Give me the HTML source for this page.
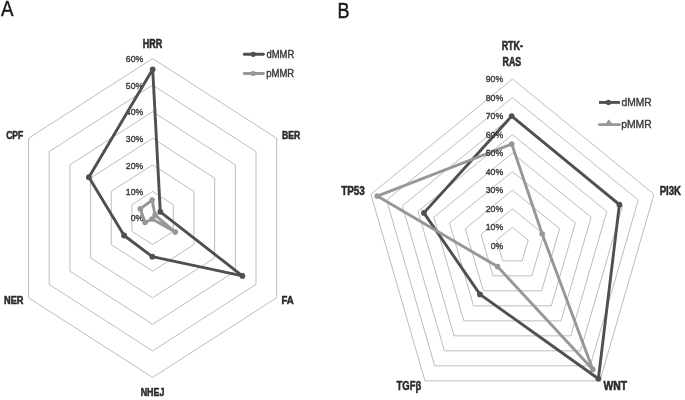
<!DOCTYPE html>
<html><head><meta charset="utf-8"><style>
html,body{margin:0;padding:0;background:#fff;}
svg{display:block;font-family:"Liberation Sans",sans-serif;}
</style></head><body>
<svg width="685" height="400" viewBox="0 0 685 400">
<defs><filter id="gs" x="0" y="0" width="685" height="400" filterUnits="userSpaceOnUse"><feOffset dx="0" dy="0"/></filter></defs>
<rect width="685" height="400" fill="#fff"/>
<polygon points="152.60,191.43 173.28,204.71 173.28,231.29 152.60,244.57 131.92,231.29 131.92,204.71" fill="none" stroke="#bcbcbc" stroke-width="1"/>
<polygon points="152.60,164.85 193.96,191.43 193.96,244.57 152.60,271.15 111.24,244.57 111.24,191.42" fill="none" stroke="#bcbcbc" stroke-width="1"/>
<polygon points="152.60,138.28 214.64,178.14 214.64,257.86 152.60,297.73 90.56,257.86 90.56,178.14" fill="none" stroke="#bcbcbc" stroke-width="1"/>
<polygon points="152.60,111.70 235.32,164.85 235.32,271.15 152.60,324.30 69.88,271.15 69.88,164.85" fill="none" stroke="#bcbcbc" stroke-width="1"/>
<polygon points="152.60,85.12 256.00,151.56 256.00,284.44 152.60,350.88 49.20,284.44 49.20,151.56" fill="none" stroke="#bcbcbc" stroke-width="1"/>
<polygon points="152.60,58.55 276.69,138.28 276.69,297.72 152.60,377.45 28.51,297.72 28.51,138.27" fill="none" stroke="#bcbcbc" stroke-width="1"/>
<polygon points="512.45,227.31 528.18,240.12 522.17,260.85 502.73,260.85 496.72,240.12" fill="none" stroke="#bcbcbc" stroke-width="1"/>
<polygon points="512.45,208.77 543.91,234.39 531.89,275.85 493.01,275.85 480.99,234.39" fill="none" stroke="#bcbcbc" stroke-width="1"/>
<polygon points="512.45,190.23 559.63,228.66 541.61,290.85 483.29,290.85 465.27,228.66" fill="none" stroke="#bcbcbc" stroke-width="1"/>
<polygon points="512.45,171.69 575.36,222.93 551.33,305.85 473.57,305.85 449.54,222.93" fill="none" stroke="#bcbcbc" stroke-width="1"/>
<polygon points="512.45,153.15 591.09,217.20 561.05,320.85 463.85,320.85 433.81,217.20" fill="none" stroke="#bcbcbc" stroke-width="1"/>
<polygon points="512.45,134.61 606.82,211.47 570.77,335.85 454.13,335.85 418.08,211.47" fill="none" stroke="#bcbcbc" stroke-width="1"/>
<polygon points="512.45,116.07 622.55,205.75 580.49,350.84 444.41,350.84 402.35,205.75" fill="none" stroke="#bcbcbc" stroke-width="1"/>
<polygon points="512.45,97.53 638.28,200.02 590.21,365.84 434.69,365.84 386.62,200.02" fill="none" stroke="#bcbcbc" stroke-width="1"/>
<polygon points="512.45,78.99 654.00,194.29 599.94,380.84 424.96,380.84 370.90,194.29" fill="none" stroke="#bcbcbc" stroke-width="1"/>
<g filter="url(#gs)">
<text transform="translate(130.73,220.75) scale(0.08700,0.09710)" font-size="100" font-weight="normal" fill="#3a3a3a" stroke="#3a3a3a" stroke-width="4.12" stroke-linejoin="round">0%</text>
<text transform="translate(125.86,195.18) scale(0.08700,0.09710)" font-size="100" font-weight="normal" fill="#3a3a3a" stroke="#3a3a3a" stroke-width="4.12" stroke-linejoin="round">10%</text>
<text transform="translate(125.86,168.60) scale(0.08700,0.09710)" font-size="100" font-weight="normal" fill="#3a3a3a" stroke="#3a3a3a" stroke-width="4.12" stroke-linejoin="round">20%</text>
<text transform="translate(125.86,142.03) scale(0.08700,0.09710)" font-size="100" font-weight="normal" fill="#3a3a3a" stroke="#3a3a3a" stroke-width="4.12" stroke-linejoin="round">30%</text>
<text transform="translate(125.86,115.45) scale(0.08700,0.09710)" font-size="100" font-weight="normal" fill="#3a3a3a" stroke="#3a3a3a" stroke-width="4.12" stroke-linejoin="round">40%</text>
<text transform="translate(125.86,88.88) scale(0.08700,0.09710)" font-size="100" font-weight="normal" fill="#3a3a3a" stroke="#3a3a3a" stroke-width="4.12" stroke-linejoin="round">50%</text>
<text transform="translate(125.86,62.30) scale(0.08700,0.09710)" font-size="100" font-weight="normal" fill="#3a3a3a" stroke="#3a3a3a" stroke-width="4.12" stroke-linejoin="round">60%</text>
</g>
<polygon points="152.70,69.30 160.30,211.80 242.40,275.90 152.30,256.65 124.10,235.50 88.90,177.20" fill="none" stroke="#505050" stroke-width="2.9" stroke-linejoin="round"/>
<circle cx="152.70" cy="69.30" r="2.9" fill="#505050"/>
<circle cx="160.30" cy="211.80" r="2.9" fill="#505050"/>
<circle cx="242.40" cy="275.90" r="2.9" fill="#505050"/>
<circle cx="152.30" cy="256.65" r="2.9" fill="#505050"/>
<circle cx="124.10" cy="235.50" r="2.9" fill="#505050"/>
<circle cx="88.90" cy="177.20" r="2.9" fill="#505050"/>
<polygon points="152.10,200.10 155.10,215.10 175.30,232.10 152.10,219.00 145.10,222.50 140.30,208.90" fill="none" stroke="#979797" stroke-width="2.9" stroke-linejoin="round"/>
<circle cx="152.10" cy="200.10" r="2.8" fill="#979797"/>
<circle cx="155.10" cy="215.10" r="2.8" fill="#979797"/>
<circle cx="175.30" cy="232.10" r="2.8" fill="#979797"/>
<circle cx="152.10" cy="219.00" r="2.8" fill="#979797"/>
<circle cx="145.10" cy="222.50" r="2.8" fill="#979797"/>
<circle cx="140.30" cy="208.90" r="2.8" fill="#979797"/>
<polygon points="511.70,116.10 619.40,204.70 598.40,378.70 480.00,294.40 423.90,212.90" fill="none" stroke="#505050" stroke-width="2.9" stroke-linejoin="round"/>
<circle cx="511.70" cy="116.10" r="2.9" fill="#505050"/>
<circle cx="619.40" cy="204.70" r="2.9" fill="#505050"/>
<circle cx="598.40" cy="378.70" r="2.9" fill="#505050"/>
<circle cx="480.00" cy="294.40" r="2.9" fill="#505050"/>
<circle cx="423.90" cy="212.90" r="2.9" fill="#505050"/>
<polygon points="511.80,144.10 542.20,234.00 592.80,369.40 497.50,266.60 377.20,196.10" fill="none" stroke="#979797" stroke-width="2.9" stroke-linejoin="round"/>
<circle cx="511.80" cy="144.10" r="2.8" fill="#979797"/>
<circle cx="542.20" cy="234.00" r="2.8" fill="#979797"/>
<circle cx="592.80" cy="369.40" r="2.8" fill="#979797"/>
<circle cx="497.50" cy="266.60" r="2.8" fill="#979797"/>
<circle cx="377.20" cy="196.10" r="2.8" fill="#979797"/>
<line x1="244.25" y1="54.3" x2="263.35" y2="54.3" stroke="#505050" stroke-width="2.9" stroke-linecap="round"/><circle cx="253.2" cy="54.3" r="2.6" fill="#505050"/>
<line x1="244.25" y1="73.5" x2="263.35" y2="73.5" stroke="#979797" stroke-width="2.9" stroke-linecap="round"/><circle cx="253.2" cy="73.5" r="2.6" fill="#979797"/>
<line x1="599.0" y1="102.4" x2="619.9" y2="102.4" stroke="#505050" stroke-width="2.9"/><circle cx="608.5" cy="102.4" r="2.6" fill="#505050"/>
<line x1="599.35" y1="124.6" x2="619.4499999999999" y2="124.6" stroke="#979797" stroke-width="2.9" stroke-linecap="round"/><polygon points="608.8,120.3 612.1999999999999,125.19999999999999 605.4,125.19999999999999" fill="#979797" stroke="#979797" stroke-width="1.3" stroke-linejoin="round"/>
<g filter="url(#gs)">
<text transform="translate(1.10,15.75) scale(0.18788,0.22797)" font-size="100" font-weight="normal" fill="#1a1a1a" stroke="#1a1a1a" stroke-width="2.19" stroke-linejoin="round">A</text>
<text transform="translate(337.41,18.00) scale(0.18019,0.21957)" font-size="100" font-weight="normal" fill="#1a1a1a" stroke="#1a1a1a" stroke-width="2.28" stroke-linejoin="round">B</text>
<text transform="translate(142.67,48.04) scale(0.09034,0.11899)" font-size="100" font-weight="bold" fill="#2b2b2b" stroke="#2b2b2b" stroke-width="4.62" stroke-linejoin="round">HRR</text>
<text transform="translate(281.94,139.25) scale(0.08663,0.11232)" font-size="100" font-weight="bold" fill="#2b2b2b" stroke="#2b2b2b" stroke-width="4.90" stroke-linejoin="round">BER</text>
<text transform="translate(281.53,304.00) scale(0.09619,0.11232)" font-size="100" font-weight="bold" fill="#2b2b2b" stroke="#2b2b2b" stroke-width="4.90" stroke-linejoin="round">FA</text>
<text transform="translate(140.68,395.80) scale(0.08874,0.11014)" font-size="100" font-weight="bold" fill="#2b2b2b" stroke="#2b2b2b" stroke-width="4.99" stroke-linejoin="round">NHEJ</text>
<text transform="translate(4.02,303.75) scale(0.09233,0.11058)" font-size="100" font-weight="bold" fill="#2b2b2b" stroke="#2b2b2b" stroke-width="4.97" stroke-linejoin="round">NER</text>
<text transform="translate(6.16,139.22) scale(0.08578,0.11290)" font-size="100" font-weight="bold" fill="#2b2b2b" stroke="#2b2b2b" stroke-width="4.87" stroke-linejoin="round">CPF</text>
<text transform="translate(501.63,49.82) scale(0.08943,0.12159)" font-size="100" font-weight="bold" fill="#2b2b2b" stroke="#2b2b2b" stroke-width="4.52" stroke-linejoin="round">RTK-</text>
<text transform="translate(502.55,65.57) scale(0.08880,0.12188)" font-size="100" font-weight="bold" fill="#2b2b2b" stroke="#2b2b2b" stroke-width="4.51" stroke-linejoin="round">RAS</text>
<text transform="translate(659.67,194.60) scale(0.09607,0.12130)" font-size="100" font-weight="bold" fill="#2b2b2b" stroke="#2b2b2b" stroke-width="4.53" stroke-linejoin="round">PI3K</text>
<text transform="translate(603.53,389.75) scale(0.10383,0.12493)" font-size="100" font-weight="bold" fill="#2b2b2b" stroke="#2b2b2b" stroke-width="4.40" stroke-linejoin="round">WNT</text>
<text transform="translate(396.50,389.75) scale(0.09502,0.13261)" font-size="100" font-weight="bold" fill="#2b2b2b" stroke="#2b2b2b" stroke-width="4.15" stroke-linejoin="round">TGFβ</text>
<text transform="translate(341.15,194.50) scale(0.09936,0.12899)" font-size="100" font-weight="bold" fill="#2b2b2b" stroke="#2b2b2b" stroke-width="4.26" stroke-linejoin="round">TP53</text>
<text transform="translate(266.47,57.90) scale(0.09439,0.10000)" font-size="100" font-weight="normal" fill="#3a3a3a" stroke="#3a3a3a" stroke-width="4.00" stroke-linejoin="round">dMMR</text>
<text transform="translate(266.18,76.70) scale(0.09539,0.10000)" font-size="100" font-weight="normal" fill="#3a3a3a" stroke="#3a3a3a" stroke-width="4.00" stroke-linejoin="round">pMMR</text>
<text transform="translate(621.49,105.50) scale(0.10298,0.11096)" font-size="100" font-weight="normal" fill="#3a3a3a" stroke="#3a3a3a" stroke-width="3.60" stroke-linejoin="round">dMMR</text>
<text transform="translate(621.17,127.90) scale(0.10408,0.11096)" font-size="100" font-weight="normal" fill="#3a3a3a" stroke="#3a3a3a" stroke-width="3.60" stroke-linejoin="round">pMMR</text>
<text transform="translate(490.63,248.90) scale(0.08700,0.09710)" font-size="100" font-weight="normal" fill="#3a3a3a" stroke="#3a3a3a" stroke-width="4.12" stroke-linejoin="round">0%</text>
<text transform="translate(485.76,230.36) scale(0.08700,0.09710)" font-size="100" font-weight="normal" fill="#3a3a3a" stroke="#3a3a3a" stroke-width="4.12" stroke-linejoin="round">10%</text>
<text transform="translate(485.76,211.82) scale(0.08700,0.09710)" font-size="100" font-weight="normal" fill="#3a3a3a" stroke="#3a3a3a" stroke-width="4.12" stroke-linejoin="round">20%</text>
<text transform="translate(485.76,193.28) scale(0.08700,0.09710)" font-size="100" font-weight="normal" fill="#3a3a3a" stroke="#3a3a3a" stroke-width="4.12" stroke-linejoin="round">30%</text>
<text transform="translate(485.76,174.74) scale(0.08700,0.09710)" font-size="100" font-weight="normal" fill="#3a3a3a" stroke="#3a3a3a" stroke-width="4.12" stroke-linejoin="round">40%</text>
<text transform="translate(485.76,156.20) scale(0.08700,0.09710)" font-size="100" font-weight="normal" fill="#3a3a3a" stroke="#3a3a3a" stroke-width="4.12" stroke-linejoin="round">50%</text>
<text transform="translate(485.76,137.66) scale(0.08700,0.09710)" font-size="100" font-weight="normal" fill="#3a3a3a" stroke="#3a3a3a" stroke-width="4.12" stroke-linejoin="round">60%</text>
<text transform="translate(485.76,119.12) scale(0.08700,0.09710)" font-size="100" font-weight="normal" fill="#3a3a3a" stroke="#3a3a3a" stroke-width="4.12" stroke-linejoin="round">70%</text>
<text transform="translate(485.76,100.58) scale(0.08700,0.09710)" font-size="100" font-weight="normal" fill="#3a3a3a" stroke="#3a3a3a" stroke-width="4.12" stroke-linejoin="round">80%</text>
<text transform="translate(485.76,82.04) scale(0.08700,0.09710)" font-size="100" font-weight="normal" fill="#3a3a3a" stroke="#3a3a3a" stroke-width="4.12" stroke-linejoin="round">90%</text>
</g>
</svg>
</body></html>
